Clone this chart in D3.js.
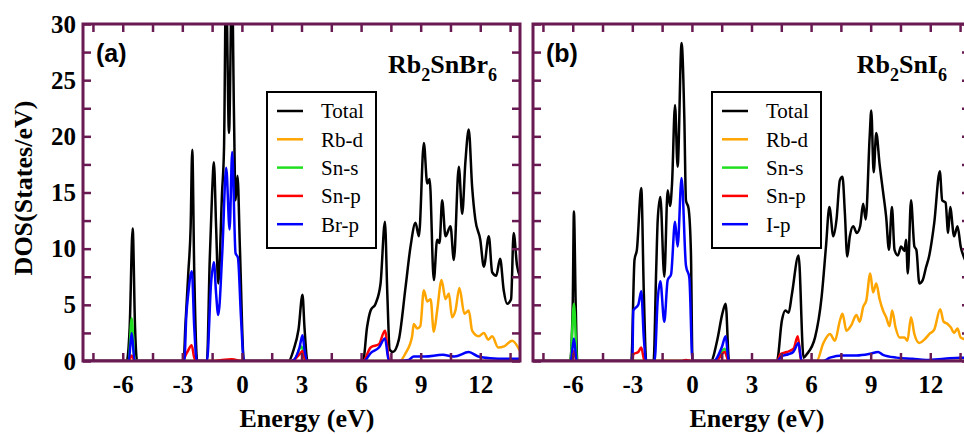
<!DOCTYPE html>
<html>
<head>
<meta charset="utf-8">
<script src="https://cdn.jsdelivr.net/npm/d3@7"></script>
<style>
	body { margin: 0; background: #fff; }
	svg { display: block; }
</style>
</head>
<body>
<div class="container"></div>
<script>
// axis ticks and labels
var energyTicks = [-7.5, -6, -4.5, -3, -1.5, 0, 1.5, 3, 4.5, 6, 7.5, 9, 10.5, 12, 13.5];
var energyLabels = [-6, -3, 0, 3, 6, 9, 12];
var dosTicks = [0, 2.5, 5, 7.5, 10, 12.5, 15, 17.5, 20, 22.5, 25, 27.5, 30];
var dosLabels = [0, 5, 10, 15, 20, 25, 30];

var seriesColors = ['#000000', '#ffa500', '#1fdf1f', '#ff0000', '#0000ff'];
var namesA = ['Total', 'Rb-d', 'Sn-s', 'Sn-p', 'Br-p'];
var namesB = ['Total', 'Rb-d', 'Sn-s', 'Sn-p', 'I-p'];

// (a) Rb2SnBr6, [energy, DOS]
var aTotal = [[-8, 0], [-5.8, 0], [-5.65, 3], [-5.5, 11.8], [-5.38, 3], [-5.28, 0],
	[-2.93, 0], [-2.85, 3], [-2.7, 7.8], [-2.58, 12], [-2.5, 18.8], [-2.4, 8], [-2.25, 0],
	[-1.76, 0], [-1.62, 9], [-1.5, 15], [-1.41, 17.7], [-1.3, 12], [-1.19, 6.9], [-1.0, 15],
	[-0.9, 19], [-0.8, 34], [-0.65, 20.3], [-0.5, 34], [-0.4, 22], [-0.32, 14.3], [-0.22, 16.5],
	[-0.1, 10], [0.1, 0],
	[2.35, 0], [2.6, 1], [2.85, 2.8], [3.05, 5.9], [3.15, 3], [3.3, 0],
	[6.1, 0], [6.3, 3], [6.48, 4.5], [6.73, 5.1], [6.98, 6.9], [7.2, 12.4], [7.32, 6], [7.44, 1.0],
	[7.6, 0.8], [7.9, 1.9], [8.24, 6.6], [8.49, 10.2], [8.74, 12.3], [8.91, 11.1], [9.16, 19.4],
	[9.33, 15.8], [9.45, 16.2], [9.66, 7.2], [9.83, 10.8], [9.95, 10.5], [10.08, 14.3], [10.25, 11.1],
	[10.5, 12], [10.67, 9], [10.92, 17.3], [11.09, 13.1], [11.25, 17.7], [11.42, 20.6], [11.59, 15.5],
	[11.75, 12.6], [12.0, 10.8], [12.18, 8.4], [12.43, 11.1], [12.6, 7.9], [12.8, 7.6], [13.0, 9.1],
	[13.18, 6.3], [13.35, 5.1], [13.55, 5.5], [13.68, 11.4], [13.85, 8.5], [14, 7.5]];
var aRbD = [[-8, 0], [7.95, 0], [8.24, 0.7], [8.57, 2.2], [8.65, 3.3], [8.82, 2.9], [8.98, 3.1],
	[9.16, 6.3], [9.33, 5.3], [9.5, 5.5], [9.66, 2.6], [9.83, 4.5], [10.05, 7.2], [10.25, 5.5],
	[10.42, 6], [10.58, 3.9], [10.75, 4.5], [10.95, 6.5], [11.2, 4.2], [11.42, 4.5], [11.59, 2.7],
	[11.92, 2.2], [12.18, 2.5], [12.4, 1.9], [12.6, 2.2], [12.9, 1.2], [13.2, 1.3], [13.6, 1.8], [14, 0.9]];
var aSnS = [[-8, 0], [-5.7, 0], [-5.55, 3.8], [-5.4, 0], [2.6, 0], [3.0, 1.3], [3.2, 0], [14, 0]];
var aSnP = [[-8, 0], [-5.7, 0], [-5.55, 0.5], [-5.4, 0], [-3.02, 0], [-2.75, 0.8], [-2.53, 1.4],
	[-2.4, 0.3], [-2.3, 0], [-1.5, 0], [-1.0, 0.1], [-0.5, 0.15], [0, 0], [2.5, 0], [2.95, 0.7],
	[3.05, 0.9], [3.2, 0], [6.1, 0], [6.48, 1.2], [6.9, 1.5], [7.2, 2.7], [7.42, 0], [14, 0]];
var aBrP = [[-8, 0], [-5.7, 0], [-5.55, 2.5], [-5.4, 0],
	[-2.9, 0], [-2.8, 4], [-2.7, 6], [-2.52, 8], [-2.4, 3], [-2.27, 0],
	[-1.76, 0], [-1.55, 7], [-1.41, 8.8], [-1.3, 6], [-1.19, 4.1], [-0.99, 9.6], [-0.79, 17.2],
	[-0.62, 11.7], [-0.49, 18.6], [-0.32, 9.6], [-0.2, 9.2], [-0.05, 4], [0.1, 0],
	[2.5, 0], [2.9, 1.2], [3.05, 2.3], [3.15, 1], [3.3, 0],
	[6.15, 0], [6.48, 0.7], [6.9, 1.2], [7.2, 2.0], [7.4, 0], [7.9, 0], [8.4, 0.1], [8.65, 0.4],
	[9.2, 0.4], [10.1, 0.55], [10.7, 0.4], [11.42, 0.8], [11.9, 0.4], [12.5, 0.25], [13.3, 0.2], [14, 0.2]];

// (b) Rb2SnI6
var bTotal = [[-8, 0], [-6.13, 0], [-6.0, 5], [-5.94, 13.3], [-5.85, 5], [-5.77, 0],
	[-3.05, 0], [-2.89, 9.0], [-2.77, 9.9], [-2.55, 15.4], [-2.42, 6], [-2.3, 0],
	[-1.93, 0], [-1.8, 8], [-1.72, 12.6], [-1.59, 14.6], [-1.39, 7.5], [-1.22, 15.2], [-1.1, 13.8],
	[-1.0, 15.8], [-0.85, 22.8], [-0.72, 17.3], [-0.52, 28.3], [-0.38, 21.5], [-0.3, 14.3],
	[-0.17, 13.6], [-0.05, 9.7], [0.03, 0],
	[0.95, 0], [1.28, 1.9], [1.53, 4.2], [1.7, 5.1], [1.87, 0],
	[4.28, 0], [4.53, 3.6], [4.7, 4.5], [4.87, 4.3], [5.03, 5.9], [5.37, 9.4], [5.62, 0.3], [5.78, 0.6],
	[6.2, 2.1], [6.53, 5.7], [6.75, 10.2], [6.92, 13.7], [7.12, 11.1], [7.28, 12.6], [7.45, 16.1],
	[7.58, 16.4], [7.7, 13.2], [7.82, 9.3], [7.95, 11.1], [8.12, 12], [8.3, 11.4], [8.47, 12],
	[8.62, 14.0], [8.75, 12.6], [8.95, 20], [9.03, 22.3], [9.15, 16.8], [9.28, 20.3], [9.45, 17.5],
	[9.62, 15.1], [9.78, 12.8], [9.92, 9.9], [10.07, 13.7], [10.2, 9.9], [10.37, 9.4], [10.53, 10.2],
	[10.7, 9.8], [10.78, 10.8], [10.87, 7.8], [11.03, 14.3], [11.2, 10.2], [11.3, 9.9], [11.45, 6.9],
	[11.62, 7.2], [11.78, 8.3], [11.95, 9.4], [12.2, 12.3], [12.48, 16.9], [12.6, 14.3], [12.77, 14.1],
	[12.9, 11.4], [13.0, 13.7], [13.2, 11.1], [13.37, 12], [13.53, 10.2], [13.75, 9], [14, 8]];
var bRbD = [[-8, 0], [6.28, 0], [6.62, 1.6], [6.95, 2.4], [7.2, 1.8], [7.45, 3.6], [7.58, 4.2],
	[7.78, 2.7], [8.03, 3.2], [8.28, 4.1], [8.45, 3.5], [8.62, 4.8], [8.78, 5.4], [8.98, 7.8],
	[9.12, 6.1], [9.28, 6.9], [9.45, 5.5], [9.62, 4.5], [9.78, 3.9], [9.95, 3.1], [10.08, 4.5],
	[10.25, 3.0], [10.45, 2.1], [10.7, 2.1], [10.85, 1.8], [11.03, 3.9], [11.2, 2.4], [11.45, 1.6],
	[11.7, 1.9], [11.95, 2.4], [12.2, 2.8], [12.5, 4.6], [12.67, 3.5], [12.87, 3.3], [13.03, 3.0],
	[13.2, 2.5], [13.37, 2.9], [13.53, 2.1], [14, 1.8]];
var bSnS = [[-8, 0], [-6.12, 0], [-5.94, 5.1], [-5.78, 0], [1.2, 0], [1.65, 1.1], [1.85, 0], [14, 0]];
var bSnP = [[-8, 0], [-6.1, 0], [-5.94, 0.9], [-5.8, 0], [-3.0, 0], [-2.95, 0.6], [-2.7, 0.8],
	[-2.55, 1.2], [-2.42, 0.2], [-2.35, 0], [-0.5, 0], [-0.3, 0.1], [0, 0], [1.2, 0], [1.65, 0.8],
	[1.85, 0], [4.3, 0], [4.45, 0.6], [4.78, 0.8], [5.12, 1.1], [5.33, 2.2], [5.5, 0], [14, 0]];
var bIP = [[-8, 0], [-6.1, 0], [-5.94, 2.0], [-5.8, 0],
	[-3.0, 0], [-2.95, 4.5], [-2.7, 5], [-2.55, 6.2], [-2.42, 2], [-2.3, 0],
	[-1.88, 0], [-1.72, 5.5], [-1.59, 7.1], [-1.39, 3.5], [-1.22, 7.2], [-1.05, 7.7], [-0.85, 12.4],
	[-0.72, 10.2], [-0.52, 16.3], [-0.3, 8.5], [-0.13, 7.4], [0.03, 0],
	[1.1, 0], [1.5, 1.2], [1.7, 2.2], [1.85, 0],
	[4.3, 0], [4.5, 0.4], [4.85, 0.6], [5.1, 0.8], [5.37, 1.6], [5.52, 0], [6.6, 0], [6.95, 0.3],
	[7.6, 0.5], [8.3, 0.5], [8.97, 0.65], [9.37, 0.8], [9.62, 0.55], [10.3, 0.3], [11.1, 0.2],
	[11.8, 0.1], [12.7, 0.2], [13.5, 0.3], [14, 0.3]];

var frameColor = '#6a1a52',
	serif = "'Liberation Serif', 'Times New Roman', serif",
	sans = "'Liberation Sans', Arial, sans-serif";

var svg = d3.select('.container')
	.append('svg')
	.attr('width', 964)
	.attr('height', 434);

svg.append('rect')
	.attr('width', 964)
	.attr('height', 434)
	.style('fill', '#fff');

function drawPanel(p) {
	var width = 437,
		height = 337,
		x = d3.scaleLinear().domain([-8, 14]).range([0, width]),
		y = d3.scaleLinear().domain([0, 30]).range([height, 0]),
		g = svg.append('g').attr('transform', 'translate(' + p.left + ',24)'),
		line = d3.line()
			.x(function (d) { return x(d[0]); })
			.y(function (d) { return y(d[1]); })
			.curve(d3.curveMonotoneX);

	g.append('clipPath')
		.attr('id', 'clip-' + p.id)
		.append('rect')
		.attr('width', width)
		.attr('height', height);

	g.append('g')
		.attr('clip-path', 'url(#clip-' + p.id + ')')
		.selectAll('path')
		.data(p.series)
		.enter().append('path')
		.attr('d', line)
		.style('fill', 'none')
		.style('stroke', function (d, i) { return seriesColors[i]; })
		.style('stroke-width', 2.5)
		.style('stroke-linejoin', 'round');

	// ticks point inwards on all four sides
	var bottom = g.append('g')
		.attr('transform', 'translate(0,' + height + ')')
		.call(d3.axisBottom(x).tickValues(energyTicks).tickSize(-8).tickPadding(14)
			.tickFormat(function (d) { return energyLabels.indexOf(d) >= 0 ? d : ''; }));
	var top = g.append('g')
		.call(d3.axisTop(x).tickValues(energyTicks).tickSize(-8).tickFormat(''));
	var left = g.append('g')
		.call(d3.axisLeft(y).tickValues(dosTicks).tickSize(-8).tickPadding(7)
			.tickFormat(function (d) { return p.yLabels && dosLabels.indexOf(d) >= 0 ? d : ''; }));
	var right = g.append('g')
		.attr('transform', 'translate(' + width + ',0)')
		.call(d3.axisRight(y).tickValues(dosTicks).tickSize(-8).tickFormat(''));

	[bottom, top, left, right].forEach(function (a) {
		a.select('.domain').remove();
		a.selectAll('line').style('stroke', frameColor).style('stroke-width', 2.5);
		a.selectAll('text')
			.style('font-family', serif)
			.style('font-weight', 'bold')
			.style('font-size', '25px')
			.style('fill', '#000');
	});

	g.append('rect')
		.attr('width', width)
		.attr('height', height)
		.style('fill', 'none')
		.style('stroke', frameColor)
		.style('stroke-width', 3);

	g.append('text')
		.text(p.tag)
		.attr('x', 13)
		.attr('y', 38)
		.style('font-family', sans)
		.style('font-weight', 'bold')
		.style('font-size', '25px');

	// chemical formula with subscripts
	var f = g.append('text')
		.attr('x', width - 23)
		.attr('y', 49)
		.attr('text-anchor', 'end')
		.style('font-family', serif)
		.style('font-weight', 'bold')
		.style('font-size', '26px');
	p.formula.forEach(function (part) {
		f.append('tspan')
			.text(part[0])
			.attr('dy', part[1] ? 8 : (part[2] ? -8 : 0))
			.style('font-size', part[1] ? '18px' : '26px');
	});

	// legend
	var lg = g.append('g').attr('transform', 'translate(' + p.legendX + ',68)');
	lg.append('rect')
		.attr('width', 109)
		.attr('height', 156)
		.style('fill', '#fff')
		.style('stroke', '#000')
		.style('stroke-width', 2);
	var rows = lg.selectAll('.row')
		.data(p.names)
		.enter().append('g')
		.attr('transform', function (d, i) { return 'translate(0,' + (19 + i * 28.3) + ')'; });
	rows.append('line')
		.attr('x1', 10)
		.attr('x2', 36)
		.style('stroke', function (d, i) { return seriesColors[i]; })
		.style('stroke-width', 2.5);
	rows.append('text')
		.text(function (d) { return d; })
		.attr('x', 54)
		.attr('dy', '0.35em')
		.style('font-family', serif)
		.style('font-size', '21px');

	g.append('text')
		.text('Energy (eV)')
		.attr('x', 224)
		.attr('y', 403)
		.attr('text-anchor', 'middle')
		.style('font-family', serif)
		.style('font-weight', 'bold')
		.style('font-size', '26px');
}

drawPanel({
	id: 'a', left: 83, tag: '(a)', yLabels: true, legendX: 184,
	names: namesA,
	series: [aTotal, aRbD, aSnS, aSnP, aBrP],
	formula: [['Rb'], ['2', true], ['SnBr', false, true], ['6', true]]
});

drawPanel({
	id: 'b', left: 533, tag: '(b)', yLabels: false, legendX: 179,
	names: namesB,
	series: [bTotal, bRbD, bSnS, bSnP, bIP],
	formula: [['Rb'], ['2', true], ['SnI', false, true], ['6', true]]
});

svg.append('text')
	.text('DOS(States/eV)')
	.attr('transform', 'translate(32,188) rotate(-90)')
	.attr('text-anchor', 'middle')
	.style('font-family', serif)
	.style('font-weight', 'bold')
	.style('font-size', '26px');
</script>
</body>
</html>
